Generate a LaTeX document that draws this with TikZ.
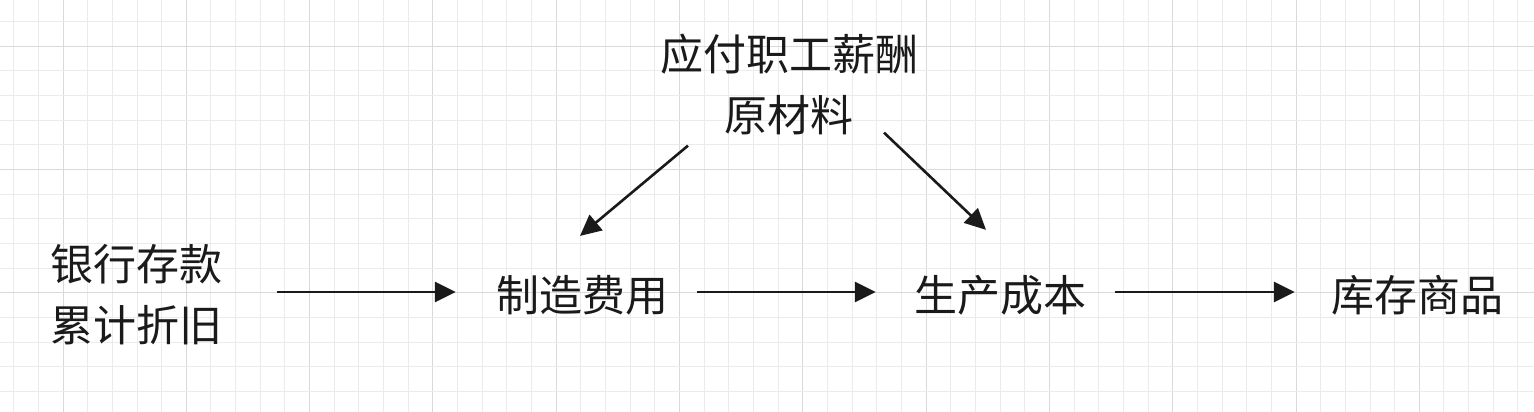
\documentclass[tikz,border=0pt]{standalone}
\usepackage{fontspec}
\setmainfont{Noto Sans CJK SC}
\usetikzlibrary{arrows.meta, positioning}
\definecolor{ink}{HTML}{1A1A1A}

\begin{document}
\begin{tikzpicture}[x=1pt, y=-1pt,
            acct/.style={inner sep=0pt, align=center, text=ink, font=\fontsize{43}{61}\selectfont},
            flow/.style={draw=ink, line width=2.6pt, -{Triangle[length=21pt, width=20pt]}},
            minor/.style={draw=black!8, line width=1pt},
            major/.style={draw=black!15, line width=1pt}]
            \useasboundingbox (0,0) rectangle (1534,412);
            \fill[white] (0,0) rectangle (1534,412);
            % grid
            \foreach \i in {0,...,61} {
                \pgfmathtruncatemacro\m{mod(\i+3,5)}
                \ifnum\m=0 \draw[major] (13.7+24.66*\i,0) -- (13.7+24.66*\i,412);
                \else \draw[minor] (13.7+24.66*\i,0) -- (13.7+24.66*\i,412); \fi
            }
            \foreach \j in {0,...,15} {
                \pgfmathtruncatemacro\m{mod(\j+4,5)}
                \ifnum\m=0 \draw[major] (0,21.6+24.66*\j) -- (1534,21.6+24.66*\j);
                \else \draw[minor] (0,21.6+24.66*\j) -- (1534,21.6+24.66*\j); \fi
            }
            \node[acct] (wages) at (789,84)   {应付职工薪酬\\原材料};
            \node[acct] (bank)  at (136,295)  {银行存款\\累计折旧};
            \node[acct] (mfg)   at (582,295)  {制造费用};
            \node[acct] (cost)  at (1000,295) {生产成本};
            \node[acct] (stock) at (1417,295) {库存商品};
            \draw[flow, shorten <=55pt, shorten >=40pt] ([yshift=3pt]bank.east) -- ([yshift=3pt]mfg.west);
            \draw[flow, shorten <=29pt, shorten >=38pt] ([yshift=3pt]mfg.east) -- ([yshift=3pt]cost.west);
            \draw[flow, shorten <=29pt, shorten >=36pt] ([yshift=3pt]cost.east) -- ([yshift=3pt]stock.west);
            \draw[flow] ([xshift=-101pt, yshift=-11pt]wages.south) -- ([xshift=-2pt, yshift=39pt]mfg.north);
            \draw[flow] ([xshift=95pt, yshift=2pt]wages.south) -- ([xshift=-14pt, yshift=45pt]cost.north);
        \end{tikzpicture}
\end{document}
